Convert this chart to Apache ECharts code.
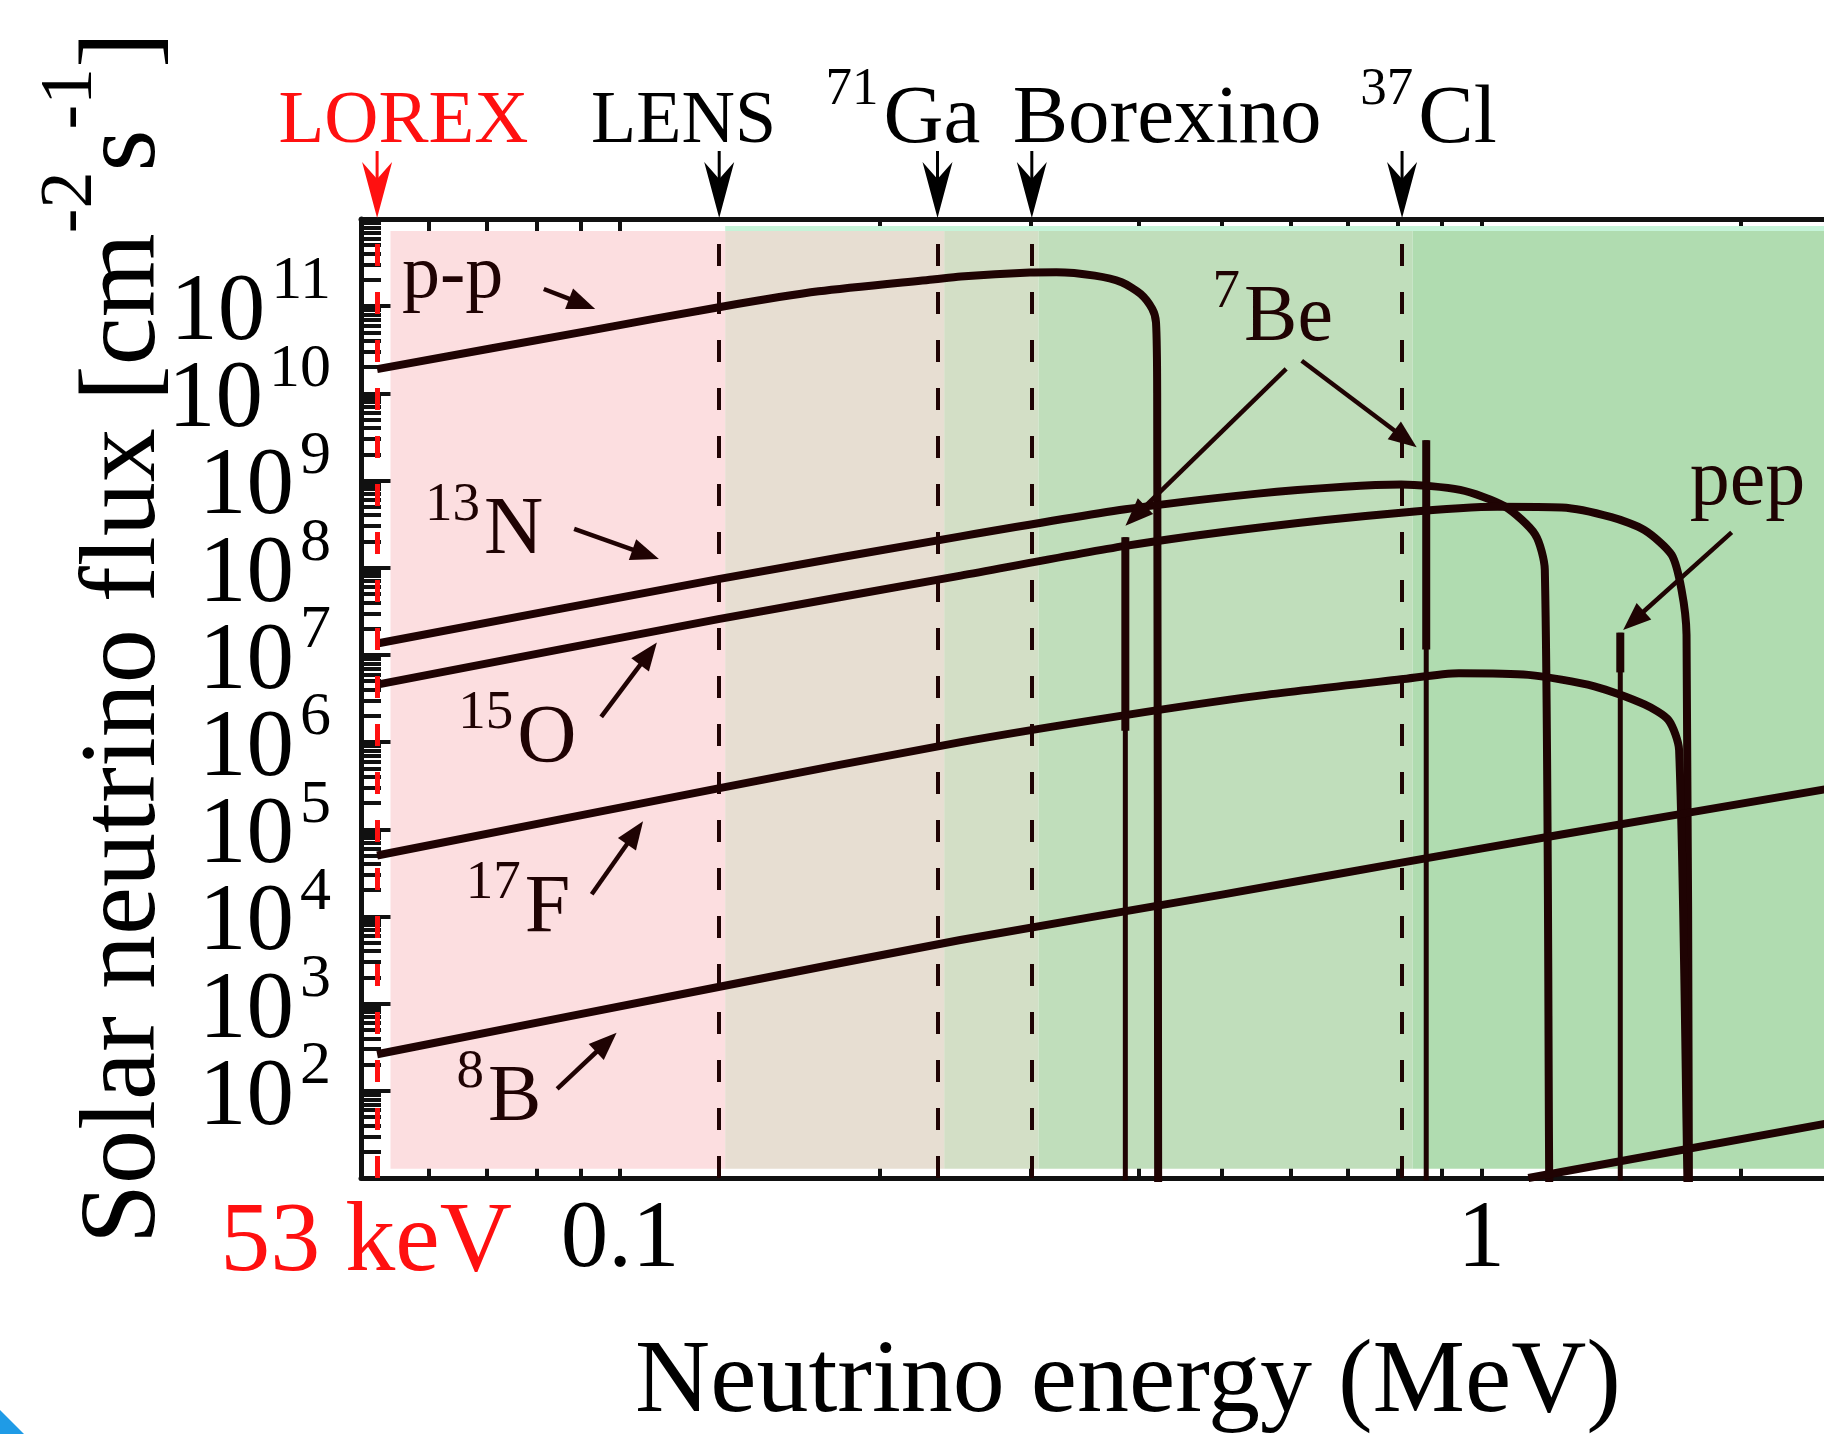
<!DOCTYPE html>
<html>
<head>
<meta charset="utf-8">
<script src="https://cdn.jsdelivr.net/npm/echarts@6/dist/echarts.min.js"></script>
<style>
html,body{margin:0;padding:0;background:#fff;}
#c{width:1824px;height:1434px;}
</style>
</head>
<body>
<div id="c"></div>
<script>
// ---------------- data ----------------
const X_MIN = 0.05, X_MAX = 2.5;
const Y_MIN = 10, Y_MAX = 1e12;

const xMajorTicks = [0.1, 1];
const xMinorTicks = [0.06, 0.07, 0.08, 0.09, 0.2, 0.3, 0.4, 0.5, 0.6, 0.7, 0.8, 0.9, 2];
const xTickLabels = [0.0522, 0.1, 1];
const xTickLabelText = ['53 keV', '0.1', '1'];

const yMajorTicks = [1e1, 1e2, 1e3, 1e4, 1e5, 1e6, 1e7, 1e8, 1e9, 1e10, 1e11, 1e12];
// first and last entries (10 and 1e12) carry no text
const yTickLabels = [1e1, 1e2, 1e3, 1e4, 1e5, 1e6, 1e7, 1e8, 1e9, 1e10, 1e11, 1e12];
const yLabelHidden = [1e1, 1e12];
const yMinorMantissas = [2, 3, 4, 5, 6, 7, 8, 9];
const yMinorDecades = [1e1, 1e2, 1e3, 1e4, 1e5, 1e6, 1e7, 1e8, 1e9, 1e10, 1e11];

// spectra (energy in MeV, flux in cm^-2 s^-1)
const ppEnergy = [0.0522, 0.0922, 0.1307, 0.170, 0.232, 0.2486, 0.299, 0.321, 0.3557, 0.3822, 0.4022, 0.4148, 0.419, 0.4203, 0.4215];
const ppFlux   = [1.9e10, 5.25e10, 9.8e10, 1.48e11, 2.04e11, 2.19e11, 2.43e11, 2.45e11, 2.24e11, 1.88e11, 1.38e11, 9.3e10, 6.5e10, 1e10, 1];

const n13Energy = [0.0522, 0.130, 0.2486, 0.386, 0.55, 0.693, 0.807, 0.945, 1.063, 1.155, 1.185, 1.199, 1.2];
const n13Flux   = [1.35e7, 7.4e7, 2.29e8, 4.68e8, 7.08e8, 8.5e8, 9.0e8, 7.8e8, 5.1e8, 2.4e8, 9.5e7, 10, 1];

const o15Energy = [0.0522, 0.130, 0.2486, 0.386, 0.55, 0.807, 1.044, 1.24, 1.416, 1.547, 1.663, 1.708, 1.731, 1.742, 1.745];
const o15Flux   = [4.57e6, 2.57e7, 8.13e7, 1.78e8, 2.88e8, 4.27e8, 5.0e8, 4.9e8, 3.8e8, 2.7e8, 1.41e8, 5.6e7, 1.7e7, 10, 1];

const f17Energy = [0.0522, 0.130, 0.2486, 0.386, 0.55, 0.807, 0.942, 1.134, 1.353, 1.547, 1.65, 1.697, 1.735, 1.74];
const f17Flux   = [5.0e4, 2.95e5, 1.0e6, 2.04e6, 3.39e6, 5.25e6, 6.17e6, 5.9e6, 4.37e6, 2.7e6, 1.78e6, 8.1e5, 10, 1];

const b8Energy = [0.0522, 0.130, 0.2483, 0.5, 0.811, 1.239, 2.512];
const b8Flux   = [263, 1.55e3, 5.37e3, 1.78e4, 4.17e4, 8.7e4, 2.88e5];

const hepEnergy = [1.134, 2.512];
const hepFlux   = [10, 42];

// mono-energetic lines: 7Be (0.384, 0.862) and pep (1.44)
const lineEnergy   = [0.386, 0.863, 1.45];
const lineTopFlux  = [2.24e8, 2.9e9, 1.8e7];
const lineThickEnd = [1.35e6, 1.15e7, 6.3e6];
const lineBottom   = 1;

// detector thresholds
const detectorSup       = ['', '', '71', '', '37'];
const detectorMain      = ['LOREX', 'LENS', 'Ga', 'Borexino', 'Cl'];
const detectorFont      = [75, 74, 83, 83, 83];
const detectorThreshold = [0.0522, 0.1303, 0.2336, 0.3006, 0.809];
const detectorLabelE    = [0.0401, 0.0925, 0.2022, 0.2856, 0.845];

// shaded sensitivity regions
const shadeBounds = [0.0541, 0.1324, 0.2378, 0.306, 0.832, X_MAX];
const shadeColors = ['#fcdee0', '#e7ded2', '#d3dfc6', '#c0debb', '#b0dcb0'];
const shadeTop = 7.28e11, shadeBottom = 12.8;
const mintStripTop = 8.3e11, mintColor = '#c6f4d9';

// in-plot annotations
const annoSup   = ['', '13', '15', '17', '8', '7', ''];
const annoMain  = ['p-p', 'N', 'O', 'F', 'B', 'Be', 'pep'];
const annoSize  = [76, 82, 82, 82, 80, 80, 80];
const annoPos   = [[0.05578, 1.088e11], [0.06949, 1.262e8], [0.07591, 5.20e5], [0.07748, 5.84e3], [0.07022, 39.7], [0.5302, 3.50e10], [1.746, 4.60e8]];
const arrowFrom = [[0.08152, 1.574e11], [0.08841, 2.786e8], [0.09504, 1.945e6], [0.09266, 1.799e4], [0.08448, 105.4], [0.5934, 1.905e10], [0.6186, 2.37e10], [1.953, 2.54e8]];
const arrowTo   = [[0.09353, 9.29e10], [0.1109, 1.262e8], [0.1103, 1.387e7], [0.1063, 1.233e5], [0.09904, 462], [0.3861, 3.04e8], [0.8412, 2.41e9], [1.461, 1.935e7]];

// ---------------- chart ----------------
const FONT = '"Liberation Serif","Times New Roman",serif';
const INK = '#1f0303';
const RED = '#ff1010';
const BASE = 0.3375; // baseline offset from text middle, in em

const yMinorTicks = [];
yMinorDecades.forEach(d => yMinorMantissas.forEach(m => yMinorTicks.push(m * d)));

function pairs(E, F) { return E.map((e, i) => [e, F[i]]); }
function sameLog(a, b) { return Math.abs(Math.log10(a) - Math.log10(b)) < 1e-6; }

const chart = echarts.init(document.getElementById('c'), null, {renderer: 'canvas', width: 1824, height: 1434});

const axisLineStyle = {color: '#111', width: 5};
const tickStyle = {color: '#111', width: 4};

const xAxes = [
  {type: 'log', position: 'bottom', min: X_MIN, max: X_MAX,
   axisLine: {show: true, lineStyle: axisLineStyle},
   axisTick: {show: true, inside: true, length: 44, lineStyle: tickStyle, customValues: xMajorTicks},
   axisLabel: {show: true, customValues: xTickLabels,
     margin: 16, fontSize: 95, fontFamily: FONT, color: '#000',
     formatter: v => {
       const i = xTickLabels.findIndex(t => sameLog(t, v));
       if (i === 0) return '{r|' + xTickLabelText[0] + '}';
       return i >= 0 ? xTickLabelText[i] : '';
     },
     rich: {r: {color: RED, fontSize: 100, fontFamily: FONT, padding: [0, 22, 0, 0]}}},
   splitLine: {show: false}, minorTick: {show: false}},
  {type: 'log', position: 'bottom', min: X_MIN, max: X_MAX,
   axisLine: {show: false}, axisLabel: {show: false}, splitLine: {show: false},
   axisTick: {show: true, inside: true, length: 22, lineStyle: tickStyle, customValues: xMinorTicks}},
  {type: 'log', position: 'top', min: X_MIN, max: X_MAX,
   axisLine: {show: true, lineStyle: axisLineStyle}, axisLabel: {show: false}, splitLine: {show: false},
   axisTick: {show: true, inside: true, length: 48, lineStyle: tickStyle, customValues: xMajorTicks}},
  {type: 'log', position: 'top', min: X_MIN, max: X_MAX,
   axisLine: {show: false}, axisLabel: {show: false}, splitLine: {show: false},
   axisTick: {show: true, inside: true, length: 23, lineStyle: tickStyle, customValues: xMinorTicks}}
];

const yAxes = [
  {type: 'log', position: 'left', min: Y_MIN, max: Y_MAX,
   axisLine: {show: true, lineStyle: axisLineStyle},
   axisTick: {show: true, inside: true, length: 43, lineStyle: tickStyle, customValues: yMajorTicks},
   axisLabel: {show: true, customValues: yTickLabels,
     margin: 30, align: 'right', fontSize: 10,
     formatter: v => yLabelHidden.some(h => sameLog(h, v)) ? '' : '{b|10}{e|' + Math.round(Math.log10(v)) + '}',
     rich: {
       b: {fontSize: 95, fontFamily: FONT, color: '#000', lineHeight: 80, height: 64, verticalAlign: 'bottom'},
       e: {fontSize: 62, fontFamily: FONT, color: '#000', lineHeight: 32, height: 32, verticalAlign: 'top', padding: [0, 0, 0, 6]}
     }},
   splitLine: {show: false}, minorTick: {show: false}},
  {type: 'log', position: 'left', min: Y_MIN, max: Y_MAX,
   axisLine: {show: false}, axisLabel: {show: false}, splitLine: {show: false},
   axisTick: {show: true, inside: true, length: 20, lineStyle: tickStyle, customValues: yMinorTicks}}
];

const series = [];

// shaded regions
const areaData = [];
for (let i = 0; i < shadeColors.length; i++) {
  areaData.push([
    {xAxis: shadeBounds[i], yAxis: shadeBottom, itemStyle: {color: shadeColors[i]}},
    {xAxis: shadeBounds[i + 1], yAxis: shadeTop}
  ]);
}
areaData.push([
  {xAxis: shadeBounds[1], yAxis: shadeTop, itemStyle: {color: mintColor}},
  {xAxis: X_MAX, yAxis: mintStripTop}
]);
series.push({type: 'line', data: [], z: 1, silent: true,
  markArea: {silent: true, animation: false, data: areaData}});

// dashed threshold lines
series.push({type: 'line', data: [], z: 2, silent: true,
  markLine: {silent: true, animation: false, precision: 6, symbol: ['none', 'none'], label: {show: false},
    data: detectorThreshold.map((e, i) => ({xAxis: e,
      lineStyle: {color: i === 0 ? RED : INK, width: i === 0 ? 5 : 4, type: [22, 26]}}))}});

// continuous spectra
[[ppEnergy, ppFlux], [n13Energy, n13Flux], [o15Energy, o15Flux], [f17Energy, f17Flux],
 [b8Energy, b8Flux], [hepEnergy, hepFlux]].forEach(([E, F]) => {
  series.push({type: 'line', data: pairs(E, F), symbol: 'none', showSymbol: false,
    smooth: 0.25, z: 3, silent: true, animation: false,
    lineStyle: {color: INK, width: 8, join: 'round'}});
});

// line sources
lineEnergy.forEach((e, i) => {
  series.push({type: 'line', data: [[e, lineTopFlux[i]], [e, lineBottom]], symbol: 'none',
    z: 3, silent: true, animation: false, lineStyle: {color: INK, width: 5}});
  series.push({type: 'line', data: [[e, lineTopFlux[i]], [e, lineThickEnd[i]]], symbol: 'none',
    z: 3, silent: true, animation: false, lineStyle: {color: INK, width: 8}});
});

// detector labels with arrows above the frame
series.push({
  type: 'custom', z: 6, silent: true, clip: false, animation: false,
  data: detectorThreshold.map(e => [e, Y_MAX]),
  renderItem: (params, api) => {
    const i = params.dataIndex;
    const p = api.coord([detectorThreshold[i], Y_MAX]);
    const lx = api.coord([detectorLabelE[i], Y_MAX])[0];
    const x = p[0], top = p[1];
    const col = i === 0 ? RED : '#000';
    const baseline = top - 71;
    const fs = detectorFont[i], fsS = 53;
    const ch = [
      {type: 'line', shape: {x1: x, y1: top - 68, x2: x, y2: top - 35}, style: {stroke: col, lineWidth: 3}},
      {type: 'polygon', shape: {points: [[x, top - 1], [x + 15, top - 57], [x, top - 40], [x - 15, top - 57]]}, style: {fill: col}},
      {type: 'text', x: lx, y: baseline - BASE * fs,
        style: {text: detectorMain[i], fontSize: fs, fontFamily: FONT, fill: col, align: 'left', verticalAlign: 'middle'}}
    ];
    if (detectorSup[i]) {
      ch.push({type: 'text', x: lx - 5, y: baseline - 40 - BASE * fsS,
        style: {text: detectorSup[i], fontSize: fsS, fontFamily: FONT, fill: col, align: 'right', verticalAlign: 'middle'}});
    }
    return {type: 'group', children: ch};
  }
});

// in-plot labels and arrows
series.push({
  type: 'custom', z: 6, silent: true, clip: false, animation: false,
  data: arrowFrom.map(a => a),
  renderItem: (params, api) => {
    const i = params.dataIndex;
    const ch = [];
    const a = api.coord(arrowFrom[i]), b = api.coord(arrowTo[i]);
    const dx = b[0] - a[0], dy = b[1] - a[1], len = Math.hypot(dx, dy);
    const ux = dx / len, uy = dy / len, nx = -uy, ny = ux;
    const hl = 28, hw = 11;
    const bx = b[0] - ux * hl, by = b[1] - uy * hl;
    ch.push({type: 'line', shape: {x1: a[0], y1: a[1], x2: bx + ux * 3, y2: by + uy * 3}, style: {stroke: INK, lineWidth: 4.5}});
    ch.push({type: 'polygon', shape: {points: [[b[0], b[1]], [bx + nx * hw, by + ny * hw], [bx - nx * hw, by - ny * hw]]}, style: {fill: INK}});
    if (i < annoMain.length) {
      const p = api.coord(annoPos[i]);
      const fs = annoSize[i], fsS = 55;
      ch.push({type: 'text', x: p[0], y: p[1] - BASE * fs,
        style: {text: annoMain[i], fontSize: fs, fontFamily: FONT, fill: INK, align: 'left', verticalAlign: 'middle'}});
      if (annoSup[i]) {
        ch.push({type: 'text', x: p[0] - 4, y: p[1] - 35 - BASE * fsS,
          style: {text: annoSup[i], fontSize: fsS, fontFamily: FONT, fill: INK, align: 'right', verticalAlign: 'middle'}});
      }
    }
    return {type: 'group', children: ch};
  }
});

chart.setOption({
  animation: false,
  backgroundColor: '#ffffff',
  grid: {left: 361, top: 219, right: 0, bottom: 256, containLabel: false, outerBoundsMode: 'none'},
  xAxis: xAxes,
  yAxis: yAxes,
  series: series,
  graphic: [
    {type: 'text', x: 1128, y: 1419 - BASE * 104, z: 10,
      style: {text: 'Neutrino energy (MeV)', fontSize: 104, fontFamily: FONT, fill: '#000', align: 'center', verticalAlign: 'middle'}},
    {type: 'text', x: 126, y: 638, rotation: Math.PI / 2, z: 10,
      style: {text: '{m|Solar neutrino flux [cm}{s|-2}{m|s}{s|-1}{m|]}', align: 'center', verticalAlign: 'middle',
        rich: {
          m: {fontSize: 108, fontFamily: FONT, fill: '#000', lineHeight: 182},
          s: {fontSize: 74, fontFamily: FONT, fill: '#000', verticalAlign: 'top'}
        }}},
    {type: 'polygon', z: 10, shape: {points: [[0, 1410], [24, 1434], [0, 1434]]}, style: {fill: '#1f9be6'}}
  ]
});
</script>
</body>
</html>
